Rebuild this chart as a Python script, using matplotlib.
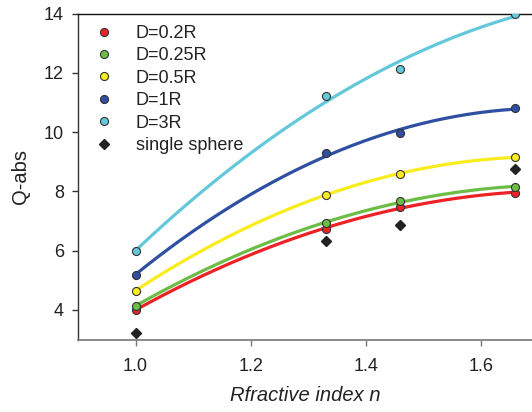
import numpy as np
import matplotlib
matplotlib.use("Agg")
import matplotlib.pyplot as plt

plt.rcParams['font.family'] = ['Liberation Sans', 'DejaVu Sans']

# refractive index of the medium
n_values = [1.0, 1.33, 1.46, 1.66]

# absorption efficiency for each particle spacing
q_d02 = [4.00, 6.73, 7.47, 7.96]
q_d025 = [4.14, 6.93, 7.66, 8.16]
q_d05 = [4.65, 7.89, 8.59, 9.15]
q_d1 = [5.18, 9.29, 9.96, 10.81]
q_d3 = [5.97, 11.23, 12.14, 13.98]
q_single = [3.23, 6.34, 6.86, 8.75]

series_labels = ["D=0.2R", "D=0.25R", "D=0.5R", "D=1R", "D=3R"]
series_values = [q_d02, q_d025, q_d05, q_d1, q_d3]
series_colors = ["#ec2227", "#6cbd45", "#f8ec1d", "#2f4fa2", "#62c8da"]
single_label = "single sphere"

x_ticks = [1.0, 1.2, 1.4, 1.6]
y_ticks = [4, 6, 8, 10, 12, 14]

fig = plt.figure(figsize=(5.32, 4.12), dpi=100)
ax = fig.add_axes([78 / 532, 1 - 339.5 / 412, 1 - 78 / 532, (339.5 - 13.5) / 412])

x = np.array(n_values)
xs = np.linspace(x.min(), x.max(), 200)

# quadratic regression curves under the data points
for vals, col in zip(series_values, series_colors):
    coef = np.polyfit(x, vals, 2)
    ax.plot(xs, np.polyval(coef, xs), color=col, lw=2.3, zorder=2,
            solid_capstyle='round')

for vals, col, lab in zip(series_values, series_colors, series_labels):
    ax.plot(x, vals, linestyle='none', marker='o', markersize=5.8,
            markerfacecolor=col, markeredgecolor='#333333',
            markeredgewidth=0.8, label=lab, zorder=3)

ax.plot(x, q_single, linestyle='none', marker='D', markersize=5.5,
        markerfacecolor='#222222', markeredgecolor='#222222',
        label=single_label, zorder=3)

ax.set_xlim(0.9, 1.6887)
ax.set_ylim(3, 14)
ax.set_xticks(x_ticks)
ax.set_xticklabels([f"{t:.1f}" for t in x_ticks])
ax.set_yticks(y_ticks)

ax.spines['right'].set_visible(False)
ax.spines['top'].set_color('#111111')
ax.spines['top'].set_linewidth(1.0)
ax.spines['left'].set_color('#333333')
ax.spines['left'].set_linewidth(1.0)
ax.spines['bottom'].set_color('#777777')
ax.spines['bottom'].set_linewidth(1.2)

ax.tick_params(axis='y', direction='out', length=4, width=1, color='#333333',
               labelsize=13, labelcolor='#222222', pad=6)
ax.tick_params(axis='x', direction='out', length=4, width=1, color='#777777',
               labelsize=13, labelcolor='#222222', pad=9)

ax.set_ylabel("Q-abs", fontsize=14.5, color='#222222', labelpad=10)
ax.set_xlabel("Rfractive index n", fontsize=14.5, style='italic',
              color='#222222', labelpad=8)

leg = ax.legend(loc='upper left', frameon=False, fontsize=13,
                handletextpad=1.15, labelspacing=0.3, borderaxespad=0.0,
                handlelength=1.2, bbox_to_anchor=(0.018, 0.987))
for t in leg.get_texts():
    t.set_color('#222222')

fig.savefig("out.png", dpi=100)
